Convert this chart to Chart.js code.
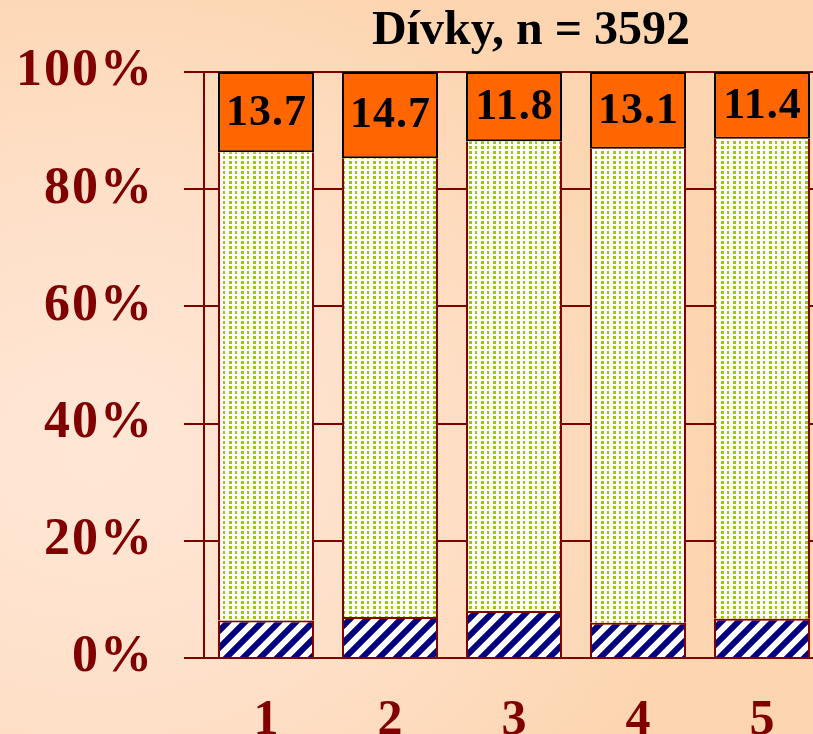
<!DOCTYPE html>
<html>
<head>
<meta charset="utf-8">
<script src="https://cdn.jsdelivr.net/npm/chart.js@4.4.1/dist/chart.umd.min.js"></script>
<style>
html, body {
    margin: 0;
    padding: 0;
    width: 813px;
    height: 734px;
    overflow: hidden;
    background: radial-gradient(ellipse 75% 70% at 12% 62%, #ffe7d6 0%, #fee0c9 50%, #fdd6b1 100%);
}
canvas { display: block; }
</style>
</head>
<body>
<canvas id="myChart" width="1062" height="734"></canvas>
<script>
//-------------------------DATA-----------------------------------------------------

var categories = ['1', '2', '3', '4', '5'];
var lowShare = [6.4, 7.0, 8.0, 6.0, 6.7];          // blue hatched part
var midShare = [79.9, 78.3, 80.2, 80.9, 81.9];     // green dotted part
var topShare = [13.7, 14.7, 11.8, 13.1, 11.4];     // orange part, labelled
var yTicks = [0, 20, 40, 60, 80, 100];
var titleText = 'Dívky, n = 3592';

//-------------------------PATTERNS-------------------------------------------------

function hatchPattern(ctx) {
    var n = 17;
    var c = document.createElement('canvas');
    c.width = n;
    c.height = n;
    var p = c.getContext('2d');
    p.fillStyle = '#ffffff';
    p.fillRect(0, 0, n, n);
    p.strokeStyle = '#000080';
    p.lineWidth = 6;
    p.beginPath();
    p.moveTo(-n / 2, n / 2); p.lineTo(n / 2, -n / 2);
    p.moveTo(0, n); p.lineTo(n, 0);
    p.moveTo(n / 2, n * 1.5); p.lineTo(n * 1.5, n / 2);
    p.stroke();
    return ctx.createPattern(c, 'repeat');
}

function dotPattern(ctx) {
    var c = document.createElement('canvas');
    c.width = 12;
    c.height = 5;
    var p = c.getContext('2d');
    p.fillStyle = '#ffffff';
    p.fillRect(0, 0, 12, 5);
    p.fillStyle = '#99cc00';
    p.fillRect(1, 1, 3, 3);
    p.fillRect(7, 1, 2, 3);
    return ctx.createPattern(c, 'repeat');
}

//-------------------------PLUGINS--------------------------------------------------

var topLabels = {
    id: 'topLabels',
    afterLayout: function(chart) {             // centre the title where the original has it
        var t = chart.titleBlock;
        if (t) {
            t.left = 238;
            t.right = 824;
            t.width = 586;
        }
    },
    afterDatasetsDraw: function(chart) {
        var ctx = chart.ctx;
        var meta = chart.getDatasetMeta(2);
        ctx.save();
        ctx.fillStyle = '#000000';
        ctx.font = 'bold 44px "Liberation Serif", "Times New Roman", serif';
        ctx.letterSpacing = '1px';
        ctx.textAlign = 'center';
        ctx.textBaseline = 'middle';
        meta.data.forEach(function(bar, i) {
            ctx.fillText(topShare[i].toFixed(1), bar.x + 0.5, (bar.y + bar.base) / 2 + 1);
        });
        ctx.restore();
        ctx.letterSpacing = '2px';             // wide axis labels, drawn after this hook
    },
    afterDraw: function(chart) {
        chart.ctx.letterSpacing = '0px';
    }
};

//-------------------------CHART----------------------------------------------------

var ctx = document.getElementById('myChart').getContext('2d');
var darkRed = '#800000';
var serif = '"Liberation Serif", "Times New Roman", serif';

var chart = new Chart(ctx, {
    type: 'bar',
    data: {
        labels: categories,
        datasets: [{
            label: 'low',
            data: lowShare,
            backgroundColor: hatchPattern(ctx),
            borderColor: darkRed,
            borderWidth: {top: 2, left: 2, right: 2, bottom: 0},
            borderSkipped: false
        }, {
            label: 'mid',
            data: midShare,
            backgroundColor: dotPattern(ctx),
            borderColor: darkRed,
            borderWidth: {top: 0, left: 2, right: 2, bottom: 0},
            borderSkipped: false
        }, {
            label: 'top',
            data: topShare,
            backgroundColor: '#ff6600',
            borderColor: '#000000',
            borderWidth: 2,
            borderSkipped: false
        }]
    },
    options: {
        responsive: false,
        animation: false,
        devicePixelRatio: 1,
        barPercentage: 0.774,
        categoryPercentage: 1,
        layout: {padding: {left: 0, right: 238, top: 0, bottom: 0}},
        plugins: {
            legend: {display: false},
            tooltip: {enabled: false},
            title: {
                display: true,
                text: titleText,
                color: '#000000',
                font: {family: serif, size: 48, weight: 'bold', lineHeight: 1.2},
                padding: {top: 3, bottom: 11.4}
            }
        },
        scales: {
            x: {
                stacked: true,
                grid: {display: false},
                border: {display: false},
                ticks: {
                    color: darkRed,
                    font: {family: serif, size: 50, weight: 'bold'},
                    padding: 25
                },
                afterFit: function(scale) { scale.height = 76; }
            },
            y: {
                stacked: true,
                min: 0,
                max: 100,
                afterBuildTicks: function(scale) {
                    scale.ticks = yTicks.map(function(v) { return {value: v}; });
                },
                grid: {color: darkRed, lineWidth: 2, tickLength: 20, drawTicks: true},
                border: {display: true, color: darkRed, width: 2},
                ticks: {
                    z: 1,
                    color: darkRed,
                    font: {family: serif, size: 52, weight: 'bold'},
                    padding: 30,
                    callback: function(v) { return v + '%'; }
                },
                afterFit: function(scale) { scale.width = 204; }
            }
        }
    },
    plugins: [topLabels]
});
</script>
</body>
</html>
